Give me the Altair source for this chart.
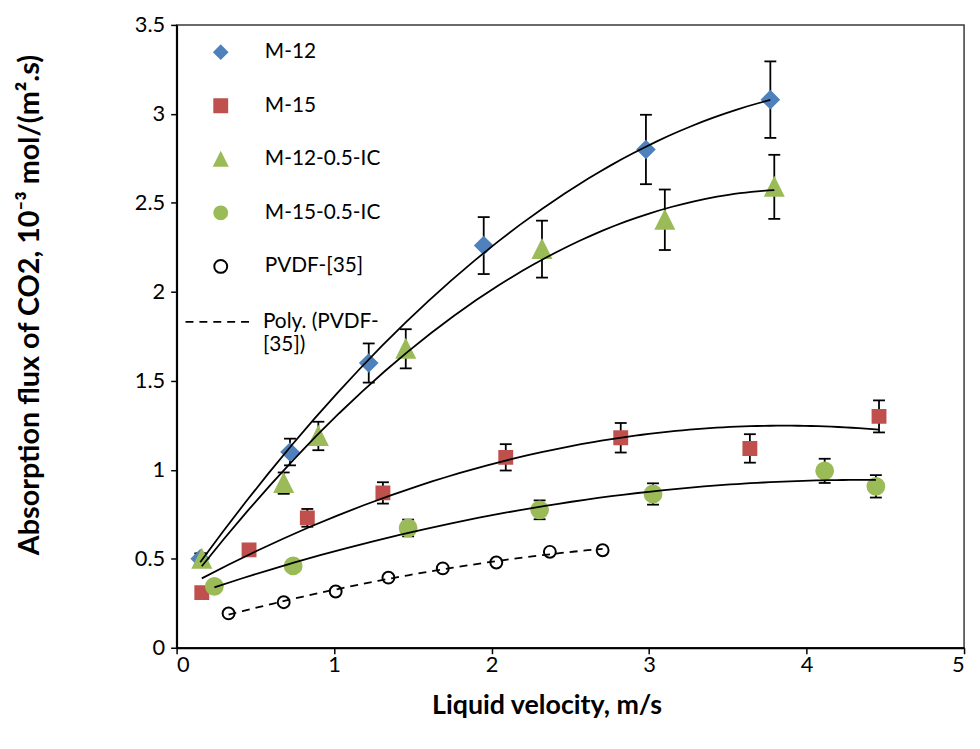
import json
import altair as alt
import pandas as pd

series_names = ["M-12", "M-15", "M-12-0.5-IC", "M-15-0.5-IC", "PVDF-[35]"]
fill_colors = ["#4F81BD", "#C0504D", "#9BBB59", "#9BBB59", "white"]
stroke_colors = ["#4F81BD", "#C0504D", "#9BBB59", "#9BBB59", "black"]
shapes = ["diamond", "square", "M0,-1L1,1L-1,1Z", "circle", "circle"]
marker_sizes = [289, 169, 324, 289, 144]

m12_x = [0.15, 0.72, 1.22, 1.95, 2.98, 3.77]
m12_y = [0.50, 1.10, 1.60, 2.26, 2.80, 3.08]
m12_err = [0.03, 0.075, 0.11, 0.16, 0.195, 0.215]

m15_x = [0.16, 0.46, 0.83, 1.31, 2.09, 2.82, 3.64, 4.46]
m15_y = [0.31, 0.55, 0.73, 0.87, 1.07, 1.18, 1.12, 1.30]
m15_err = [0.02, 0.03, 0.05, 0.06, 0.074, 0.083, 0.08, 0.09]

m12ic_x = [0.16, 0.68, 0.90, 1.455, 2.32, 3.10, 3.795]
m12ic_y = [0.50, 0.925, 1.19, 1.68, 2.24, 2.405, 2.59]
m12ic_err = [0.03, 0.06, 0.08, 0.11, 0.16, 0.17, 0.18]

m15ic_x = [0.24, 0.74, 1.47, 2.305, 3.025, 4.115, 4.44]
m15ic_y = [0.345, 0.46, 0.673, 0.775, 0.864, 0.994, 0.907]
m15ic_err = [0.02, 0.02, 0.047, 0.053, 0.06, 0.068, 0.063]

pvdf_x = [0.33, 0.68, 1.01, 1.345, 1.69, 2.03, 2.37, 2.705]
pvdf_y = [0.193, 0.256, 0.316, 0.394, 0.446, 0.479, 0.539, 0.548]
pvdf_err = [0, 0, 0, 0, 0, 0, 0, 0]

x_ticks = [0, 1, 2, 3, 4, 5]
y_ticks = [0, 0.5, 1, 1.5, 2, 2.5, 3, 3.5]
trend_label = "Poly. (PVDF-[35])"
trend_label_lines = ["Poly. (PVDF-", "[35])"]

rows = []
for name, xs, ys, es in [
    (series_names[0], m12_x, m12_y, m12_err),
    (series_names[1], m15_x, m15_y, m15_err),
    (series_names[2], m12ic_x, m12ic_y, m12ic_err),
    (series_names[3], m15ic_x, m15ic_y, m15ic_err),
    (series_names[4], pvdf_x, pvdf_y, pvdf_err),
]:
    for xv, yv, ev in zip(xs, ys, es):
        rows.append({"series": name, "x": xv, "y": yv, "err": ev})
df = pd.DataFrame(rows)

x_scale = alt.Scale(domain=[0, 5], nice=False, zero=False)
y_scale = alt.Scale(domain=[0, 3.5], nice=False, zero=False)

x_axis = alt.Axis(
    values=x_ticks, format="~g", title="Liquid velocity, m/s",
    titleX=373, titleY=45, titleBaseline="top", titleAlign="center",
)
y_axis = alt.Axis(
    values=y_ticks, format="~g",
    title="Absorption flux of CO2, 10⁻³ mol/(m².s)",
    titleX=-148, titleY=282, titleAngle=270, titleBaseline="middle", titleAlign="center",
    titleFontSize=29,
)

X = alt.X("x:Q", scale=x_scale, axis=x_axis)

base = alt.Chart(df)

err_base = base.transform_filter("datum.err > 0").transform_calculate(
    lo="datum.y - datum.err", hi="datum.y + datum.err"
)
err_rule = err_base.mark_rule(color="black", strokeWidth=1.8).encode(
    x=X,
    y=alt.Y("lo:Q", scale=y_scale, axis=y_axis),
    y2="hi:Q",
)
err_lo = err_base.mark_tick(orient="horizontal", size=12, thickness=1.8, color="black", opacity=1).encode(
    x=X, y=alt.Y("lo:Q", scale=y_scale, axis=y_axis)
)
err_hi = err_base.mark_tick(orient="horizontal", size=12, thickness=1.8, color="black", opacity=1).encode(
    x=X, y=alt.Y("hi:Q", scale=y_scale, axis=y_axis)
)

pt_legend = alt.Legend(
    title=None, orient="none", legendX=34, legendY=17, padding=0,
    rowPadding=32, labelFontSize=21, labelFont="Lato", labelColor="black",
    symbolSize=169, symbolStrokeWidth=2, labelOffset=34, labelLimit=300,
)

size_expr = (
    json.dumps(marker_sizes) + "[indexof(" + json.dumps(series_names) + ", datum.series)]"
)

points = base.transform_calculate(msize=size_expr).mark_point(
    filled=True, opacity=1, strokeWidth=2
).encode(
    x=X,
    y=alt.Y("y:Q", scale=y_scale, axis=y_axis),
    fill=alt.Fill("series:N", scale=alt.Scale(domain=series_names, range=fill_colors), legend=pt_legend),
    stroke=alt.Stroke("series:N", scale=alt.Scale(domain=series_names, range=stroke_colors), legend=pt_legend),
    shape=alt.Shape("series:N", scale=alt.Scale(domain=series_names, range=shapes), legend=pt_legend),
    size=alt.Size("msize:Q", scale=None),
)

solid_trend = base.transform_filter(
    alt.datum.series != series_names[4]
).transform_regression(
    "x", "y", method="poly", order=2, groupby=["series"]
).mark_line(color="black", strokeWidth=1.8).encode(
    x=X,
    y=alt.Y("y:Q", scale=y_scale, axis=y_axis),
    detail="series:N",
)

dash_legend = alt.Legend(
    title=None, orient="none", legendX=8, legendY=265, padding=0,
    labelFontSize=21, labelFont="Lato", labelColor="black",
    symbolType="stroke", symbolSize=4489, symbolStrokeWidth=1.8,
    symbolStrokeColor="black", labelOffset=10, labelLimit=300,
    labelExpr=json.dumps(trend_label_lines),
)

dash_trend = base.transform_filter(
    alt.datum.series == series_names[4]
).transform_regression(
    "x", "y", method="poly", order=2
).transform_calculate(
    trend=json.dumps(trend_label)
).mark_line(color="black", strokeWidth=1.8).encode(
    x=X,
    y=alt.Y("y:Q", scale=y_scale, axis=y_axis),
    strokeDash=alt.StrokeDash("trend:N", scale=alt.Scale(domain=[trend_label], range=[[8, 6]]), legend=dash_legend),
)

chart = alt.layer(err_rule, err_lo, err_hi, points, solid_trend, dash_trend).properties(
    width=794, height=628,
    autosize=alt.AutoSizeParams(type="none"),
    padding={"left": 170, "top": 14, "right": 8, "bottom": 94},
).configure(
    font="Lato",
).configure_view(
    stroke="#3a3a3a", strokeWidth=1.5,
).configure_axis(
    grid=False,
    domainColor="black", domainWidth=2,
    tickColor="black", tickWidth=1.5, tickSize=6,
    labelColor="black", labelFont="Lato", labelFontSize=22,
    titleColor="black", titleFont="Lato", titleFontSize=27, titleFontWeight="bold",
).configure_axisX(
    labelPadding=1,
).configure_axisY(
    labelPadding=6,
)

chart.save("out.html", embed_options={"renderer": "svg", "actions": False})
